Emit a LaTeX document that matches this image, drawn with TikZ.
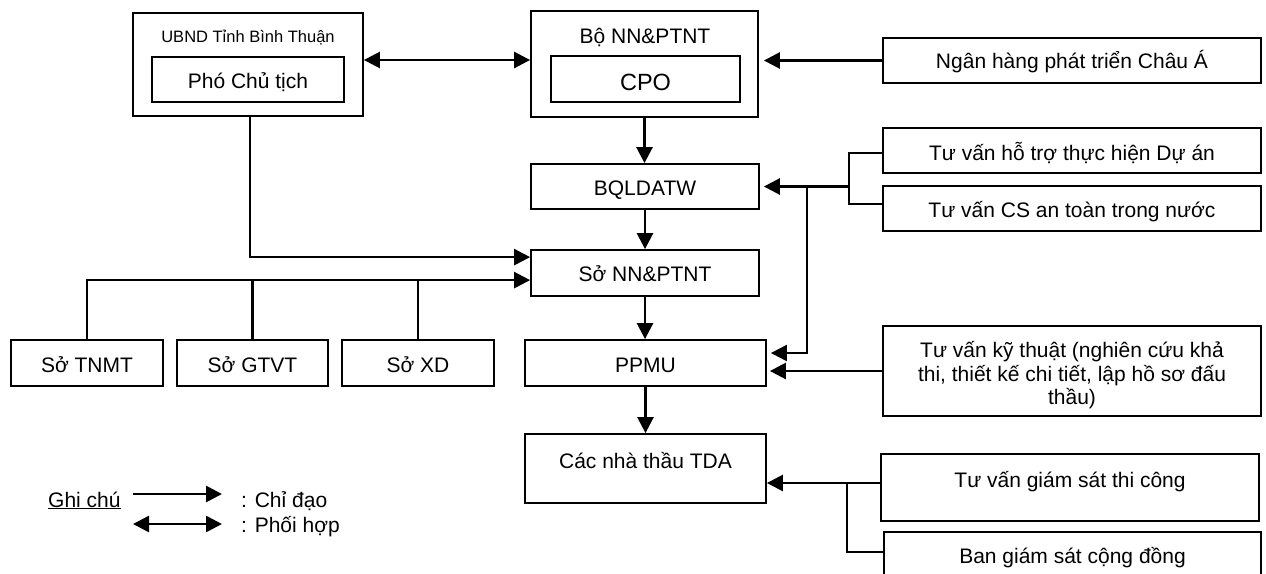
\documentclass[tikz,border=0pt]{standalone}
\usepackage{fontspec}
\setmainfont{Liberation Sans}
\usetikzlibrary{arrows.meta,calc}
\newcommand\mainfs{\fontsize{21}{23.5}\selectfont}
\newcommand\smallfs{\fontsize{16.5}{19}\selectfont}
\newcommand\bigfs{\fontsize{23.5}{26}\selectfont}
\tikzset{
  bx/.style={draw, line width=1.8pt, inner sep=0pt},
  txt/.style={inner sep=0pt, anchor=base, font=\mainfs},
  txtl/.style={inner sep=0pt, anchor=base west, font=\mainfs},
  arr/.style={line width=2.6pt, -{Triangle[length=16pt,width=16pt]}},
  darr/.style={line width=2.6pt, {Triangle[length=16pt,width=16pt]}-{Triangle[length=16pt,width=16pt]}},
  ln/.style={line width=2.2pt},
  thinln/.style={line width=1.8pt},
}
\begin{document}
\begin{tikzpicture}[x=1pt,y=-1pt]
\useasboundingbox (0,0) rectangle (1266,573);
% boxes
\node[bx, minimum width=230pt, minimum height=103pt] (ubnd) at (248,64.5) {};
\node[bx, minimum width=192pt, minimum height=45pt] (pct) at (248,79.5) {};
\node[bx, minimum width=227pt, minimum height=106pt] (bo) at (644.5,64) {};
\node[bx, minimum width=189pt, minimum height=46pt] (cpo) at (645.5,79) {};
\node[bx, minimum width=378pt, minimum height=45pt] (nh) at (1072,60.5) {};
\node[bx, minimum width=228pt, minimum height=45pt] (bql) at (645,186.5) {};
\node[bx, minimum width=378pt, minimum height=45pt] (tvht) at (1072,150.5) {};
\node[bx, minimum width=378pt, minimum height=45pt] (tvcs) at (1072,208.5) {};
\node[bx, minimum width=228pt, minimum height=46pt] (sonn) at (645,273) {};
\node[bx, minimum width=152pt, minimum height=46pt] (tnmt) at (87,363) {};
\node[bx, minimum width=151pt, minimum height=46pt] (gtvt) at (252.5,363) {};
\node[bx, minimum width=152pt, minimum height=46pt] (xd) at (418,363) {};
\node[bx, minimum width=241pt, minimum height=46pt] (ppmu) at (645.5,363) {};
\node[bx, minimum width=378pt, minimum height=90pt] (tvkt) at (1072,371) {};
\node[bx, minimum width=241pt, minimum height=69pt] (cnt) at (645.5,468.5) {};
\node[bx, minimum width=378pt, minimum height=67pt] (tvgs) at (1070,487.5) {};
\node[bx, minimum width=377pt, minimum height=48pt] (ban) at (1072.5,556) {};
% texts
\node[txt, font=\smallfs] (tubnd) at (248,42) {UBND Tỉnh Bình Thuận};
\node[txt] (tpct) at (248,88) {Phó Chủ tịch};
\node[txt] (tbo) at (645,43) {Bộ NN\&PTNT};
\node[txt, font=\bigfs] (tcpo) at (645.5,90) {CPO};
\node[txt] (tnh) at (1072,68) {Ngân hàng phát triển Châu Á};
\node[txt] (tbql) at (645,195) {BQLDATW};
\node[txt] (ttvht) at (1072,160) {Tư vấn hỗ trợ thực hiện Dự án};
\node[txt] (ttvcs) at (1072,217) {Tư vấn CS an toàn trong nước};
\node[txt] (tsonn) at (645,281) {Sở NN\&PTNT};
\node[txt] (ttnmt) at (87,372) {Sở TNMT};
\node[txt] (tgtvt) at (252.5,372) {Sở GTVT};
\node[txt] (txd) at (418,372) {Sở XD};
\node[txt] (tppmu) at (645.5,372) {PPMU};
\node[txt] (ttvkta) at (1072,357) {Tư vấn kỹ thuật (nghiên cứu khả};
\node[txt] (ttvktb) at (1072,381) {thi, thiết kế chi tiết, lập hồ sơ đấu};
\node[txt] (ttvktc) at (1072,404) {thầu)};
\node[txt] (tcnt) at (645.5,468) {Các nhà thầu TDA};
\node[txt] (ttvgs) at (1070,487) {Tư vấn giám sát thi công};
\node[txt] (tban) at (1072.5,563) {Ban giám sát cộng đồng};
% connectors
\draw[darr] ([yshift=4.5pt]ubnd.east) -- ([yshift=4.5pt]ubnd.east -| bo.west);
\draw[arr, shorten >=5pt] (nh.west) -- (nh.west -| bo.east);
\draw[arr] (bo.south) -- (bo.south |- bql.north);
\draw[arr] (bql.south) -- (bql.south |- sonn.north);
\draw[arr] (sonn.south) -- (sonn.south |- ppmu.north);
\draw[arr] (ppmu.south) -- (ppmu.south |- cnt.north);
\draw[ln, arr] ([xshift=2pt]ubnd.south) |- ([yshift=-8pt]sonn.north west);
\coordinate (bus) at ([yshift=-31pt]sonn.north west);
\draw[arr] (tnmt.north) |- (bus);
\draw[ln] (gtvt.north) -- (gtvt.north |- bus);
\draw[ln] (xd.north) -- (xd.north |- bus);
% upper right bracket
\draw[thinln] ([yshift=-2.5pt]tvht.west) -- ++(-33,0) coordinate (br1) |- ([yshift=4.5pt]tvcs.west);
\coordinate (j1) at (br1 |- bql.east);
\draw[arr, shorten >=4pt] (j1) -- (bql.east);
\draw[arr, line width=2.2pt, shorten >=4pt] ([xshift=47pt]bql.east) |- ([yshift=10pt]ppmu.east);
\draw[arr, shorten >=3pt] (tvkt.west) -- (tvkt.west -| ppmu.east);
% lower right bracket
\draw[arr] ([yshift=4.5pt]tvgs.west) -- ([yshift=4.5pt]tvgs.west -| cnt.east);
\draw[thinln] ([xshift=-33pt,yshift=4.5pt]tvgs.west) |- ([yshift=4pt]ban.west);
% legend
\node[txtl] (tghi) at (48,507) {\underline{Ghi chú}};
\coordinate (la) at (133,494);
\coordinate (lb) at (222,494);
\coordinate (lc) at (133,524);
\coordinate (ld) at (222,524);
\draw[arr] (la) -- (lb);
\draw[darr] (lc) -- (ld);
\node[txtl] (tchi) at (241,507) {: Chỉ đạo};
\node[txtl] (tphoi) at (241,532) {: Phối hợp};
\end{tikzpicture}
\end{document}
